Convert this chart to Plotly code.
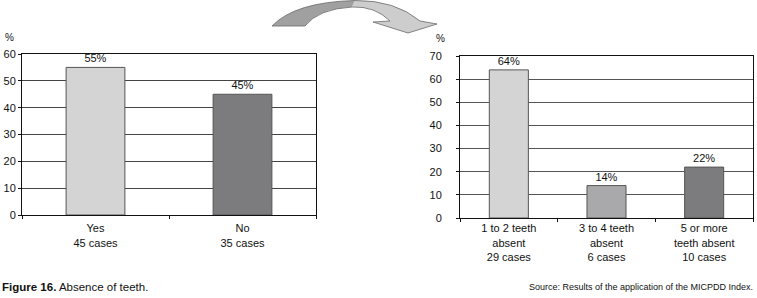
import plotly.graph_objects as go

W, H = 757, 298

left_categories = ["Yes<br>45 cases", "No<br>35 cases"]
left_values = [55, 45]
left_colors = ["#d4d4d4", "#7c7c7f"]

right_categories = ["1 to 2 teeth<br>absent<br>29 cases", "3 to 4 teeth<br>absent<br>6 cases",
                    "5 or more<br>teeth absent<br>10 cases"]
right_values = [64, 14, 22]
right_colors = ["#d4d4d4", "#a9a9ab", "#7c7c7f"]

left_yticks = [0, 10, 20, 30, 40, 50, 60]
right_yticks = [0, 10, 20, 30, 40, 50, 60, 70]

FONT = "Liberation Sans, Arial, Helvetica, sans-serif"


def px(x):
    return x / W


def py(y):
    return 1 - y / H


fig = go.Figure()
fig.add_trace(go.Bar(x=left_categories, y=left_values, marker=dict(color=left_colors, line=dict(color="#555", width=1)),
                     width=0.4, text=[f"{v}%" for v in left_values], textposition="outside",
                     textfont=dict(size=11, color="#111"), cliponaxis=False, xaxis="x", yaxis="y",
                     hoverinfo="skip"))
fig.add_trace(go.Bar(x=right_categories, y=right_values, marker=dict(color=right_colors, line=dict(color="#555", width=1)),
                     width=0.4, text=[f"{v}%" for v in right_values], textposition="outside",
                     textfont=dict(size=11, color="#111"), cliponaxis=False, xaxis="x2", yaxis="y2",
                     hoverinfo="skip"))

axis_common = dict(showline=True, linecolor="#111", linewidth=1, mirror=True, automargin=False,
                   tickfont=dict(size=11, color="#111", family=FONT))
fig.update_layout(
    width=W, height=H, margin=dict(l=0, r=0, t=0, b=0, pad=0, autoexpand=False),
    paper_bgcolor="white", plot_bgcolor="white", showlegend=False,
    font=dict(family=FONT, color="#111"),
    xaxis=dict(domain=[px(22), px(316)], anchor="y", ticks="outside", ticklen=3, tickson="boundaries",
               tickcolor="#111", showgrid=False, ticklabelstandoff=3, **axis_common),
    yaxis=dict(domain=[py(215), py(54)], anchor="x", range=[0, 60], tickvals=left_yticks,
               ticks="outside", ticklen=3, tickcolor="#111", showgrid=True, gridcolor="#444", gridwidth=1,
               zeroline=False, **axis_common),
    xaxis2=dict(domain=[px(460), px(753)], anchor="y2", ticks="outside", ticklen=3, tickson="boundaries",
                tickcolor="#111", showgrid=False, **axis_common),
    yaxis2=dict(domain=[py(218), py(56)], anchor="x2", range=[0, 70], tickvals=right_yticks,
                ticks="outside", ticklen=3, tickcolor="#111", showgrid=True, gridcolor="#555", gridwidth=1,
                zeroline=False, ticklabelstandoff=12, **axis_common),
)

# percent unit labels
fig.add_annotation(x=px(3), y=py(37.5), xref="paper", yref="paper", text="%", showarrow=False,
                   xanchor="left", yanchor="middle", font=dict(size=10, color="#111"))
fig.add_annotation(x=px(434), y=py(38), xref="paper", yref="paper", text="%", showarrow=False,
                   xanchor="left", yanchor="middle", font=dict(size=10, color="#111"))

# captions
fig.add_annotation(x=0, y=py(287), xref="paper", yref="paper",
                   text="<b>Figure 16.</b> Absence of teeth.", showarrow=False,
                   xanchor="left", yanchor="middle", font=dict(size=11.5, color="#111"))
fig.add_annotation(x=px(755), y=py(287), xref="paper", yref="paper",
                   text="Source: Results of the application of the MICPDD Index.", showarrow=False,
                   xanchor="right", yanchor="middle", font=dict(size=9, color="#111"))


def path(cmds):
    out = []
    for c in cmds:
        if isinstance(c, str):
            out.append(c)
        else:
            out.append(f"{px(c[0]):.5f},{py(c[1]):.5f}")
    return " ".join(out)


left_piece = path(["M", (272, 26), "Q", (295, 2), (355, 0.5), "L", (352, 7), "Q", (318, 9), (305, 26), "Z"])
right_piece = path(["M", (355, 0.5), "Q", (395, 0), (420, 21), "L", (437, 24), "L", (408, 33), "L", (373, 22),
                    "L", (390, 21), "Q", (375, 6), (352, 7), "Z"])
outline = path(["M", (272, 26), "Q", (295, 2), (355, 0.5), "Q", (395, 0), (420, 21), "L", (437, 24),
                "L", (408, 33), "L", (373, 22), "L", (390, 21), "Q", (375, 6), (352, 7), "Q", (318, 9),
                (305, 26), "Z"])
fig.add_shape(type="path", path=left_piece, xref="paper", yref="paper", fillcolor="#a0a0a0", line=dict(width=0))
fig.add_shape(type="path", path=right_piece, xref="paper", yref="paper", fillcolor="#cdcdcd", line=dict(width=0))
fig.add_shape(type="path", path=outline, xref="paper", yref="paper", fillcolor="rgba(0,0,0,0)",
              line=dict(color="#6a6a6a", width=0.8))

fig.write_html("out.html", config={"displayModeBar": False},
               post_script="document.body.style.margin='0';")
